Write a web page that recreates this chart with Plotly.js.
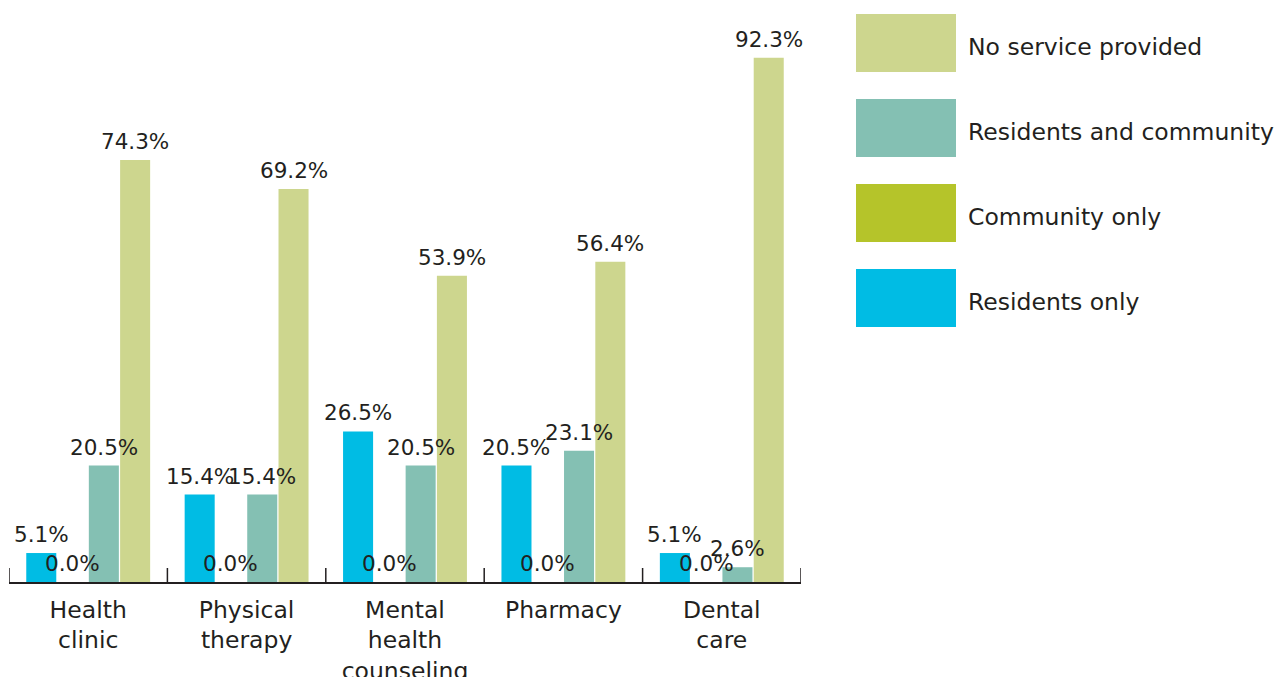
<!DOCTYPE html>
<html>
<head>
<meta charset="utf-8">
<script src="https://cdn.plot.ly/plotly-3.0.1.min.js"></script>
<style>html,body{margin:0;padding:0;background:#fff;}#chart{width:1277px;height:677px;}</style>
</head>
<body>
<div id="chart"></div>
<script>
const categories = ["Health<br>clinic", "Physical<br>therapy", "Mental<br>health<br>counseling", "Pharmacy", "Dental<br>care"];
const seriesNames = ["Residents only", "Community only", "Residents and community", "No service provided"];
const residentsOnly = [5.1, 15.4, 26.5, 20.5, 5.1];
const communityOnly = [0.0, 0.0, 0.0, 0.0, 0.0];
const residentsAndCommunity = [20.5, 15.4, 20.5, 23.1, 2.6];
const noService = [74.3, 69.2, 53.9, 56.4, 92.3];
const colors = ["#00BCE4", "#B5C42A", "#84C0B3", "#CDD68E"];

const W = 1277, H = 677;
const M = {l: 9, r: 476, t: 14, b: 95};
const PW = W - M.l - M.r, PH = H - M.t - M.b;
const px2x = p => (p - M.l) / PW;
const px2y = p => (H - M.b - p) / PH;
const FONT = "DejaVu Sans, sans-serif";
const TXT = "#231F20";
const BARGAP = 0.21, GROUPGAP = 0.04;

const values = [residentsOnly, communityOnly, residentsAndCommunity, noService];
const traces = values.map((v, i) => ({
  type: "bar",
  name: seriesNames[i],
  x: categories,
  y: v,
  marker: {color: colors[i], line: {width: 0}},
  hoverinfo: "skip"
}));

const shapes = [], annotations = [];

// value labels, drawn above all bars
const slot = (1 - BARGAP) / values.length;
values.forEach((v, i) => {
  const off = (i - (values.length - 1) / 2) * slot;
  v.forEach((d, c) => {
    annotations.push({xref: "x", yref: "y", x: c + off, y: d,
      xanchor: "center", yanchor: "bottom", yshift: 4, showarrow: false,
      text: d.toFixed(1) + "%", font: {family: FONT, size: 21.5, color: TXT}});
  });
});

// category boundary ticks pointing up from the baseline
for (let b = 0; b <= categories.length; b++) {
  shapes.push({type: "line", xref: "x", yref: "paper", x0: b - 0.5, x1: b - 0.5,
    y0: 0, y1: 14 / PH, line: {color: TXT, width: 1.5}});
}

// legend drawn as shapes + annotations (top: No service provided)
const legendTops = [14, 99, 184, 269];
const order = [3, 2, 1, 0];
order.forEach((si, k) => {
  const top = legendTops[k], bot = top + 58;
  shapes.push({type: "rect", xref: "paper", yref: "paper",
    x0: px2x(856), x1: px2x(956), y0: px2y(bot), y1: px2y(top),
    fillcolor: colors[si], line: {width: 0}});
  annotations.push({xref: "paper", yref: "paper", x: px2x(966), y: px2y(top + 33),
    xanchor: "left", yanchor: "middle", showarrow: false, text: seriesNames[si],
    font: {family: FONT, size: 23.5, color: TXT}});
});

const layout = {
  width: W, height: H,
  margin: M,
  paper_bgcolor: "#fff", plot_bgcolor: "#fff",
  barmode: "group",
  bargap: BARGAP,
  bargroupgap: GROUPGAP,
  showlegend: false,
  xaxis: {
    range: [-0.5, categories.length - 0.5],
    showline: true, linecolor: TXT, linewidth: 1.5,
    ticks: "", ticklabelstandoff: 6,
    tickfont: {family: FONT, size: 23.5, color: TXT},
    showgrid: false, zeroline: false, fixedrange: true
  },
  yaxis: {range: [0, 100], visible: false, showgrid: false, zeroline: false, fixedrange: true},
  shapes: shapes,
  annotations: annotations,
  font: {family: FONT, color: TXT}
};

Plotly.newPlot("chart", traces, layout, {displayModeBar: false, staticPlot: true});
</script>
</body>
</html>
